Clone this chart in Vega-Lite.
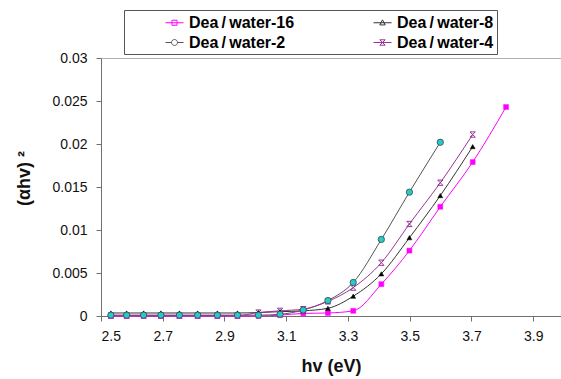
{
  "$schema": "https://vega.github.io/schema/vega-lite/v6.json",
  "autosize": "none",
  "width": 460,
  "height": 258,
  "padding": {"left": 101, "top": 58, "right": 0, "bottom": 63},
  "background": "white",
  "config": {
    "view": {"stroke": "#b0b0b0", "strokeWidth": 1},
    "axis": {
      "grid": false,
      "domainColor": "#707070",
      "tickColor": "#707070",
      "tickSize": 5,
      "labelFont": "Liberation Sans",
      "labelFontSize": 14,
      "labelColor": "#111",
      "titleFont": "Liberation Sans",
      "titleFontSize": 18,
      "titleFontWeight": "bold",
      "titleColor": "#111"
    },
    "legend": {
      "title": "\u00a0", "titleOrient": "right", "titlePadding": 42, "titleFontSize": 1,
      "orient": "none", "legendX": 23, "legendY": -48,
      "columns": 2, "direction": "horizontal", "columnPadding": 40, "rowPadding": 2,
      "padding": 3, "symbolOffset": 38, "labelOffset": 5, "symbolSize": 324, "symbolOpacity": 1, "symbolStrokeWidth": 1,
      "strokeColor": "#555555", "fillColor": "white",
      "labelFont": "Liberation Sans", "labelFontSize": 16, "labelFontWeight": "bold", "labelColor": "#000"
    }
  },
  "data": {
    "values": [
      {"series": "Dea/water-16", "hv": 2.532, "y": 0.0},
      {"series": "Dea/water-16", "hv": 2.583, "y": 0.0},
      {"series": "Dea/water-16", "hv": 2.638, "y": 0.0},
      {"series": "Dea/water-16", "hv": 2.694, "y": 0.0},
      {"series": "Dea/water-16", "hv": 2.754, "y": 0.0},
      {"series": "Dea/water-16", "hv": 2.813, "y": 0.0},
      {"series": "Dea/water-16", "hv": 2.877, "y": 0.0},
      {"series": "Dea/water-16", "hv": 2.942, "y": 0.0},
      {"series": "Dea/water-16", "hv": 3.010, "y": 0.0},
      {"series": "Dea/water-16", "hv": 3.080, "y": 0.0001},
      {"series": "Dea/water-16", "hv": 3.155, "y": 0.0003},
      {"series": "Dea/water-16", "hv": 3.235, "y": 0.00035},
      {"series": "Dea/water-16", "hv": 3.317, "y": 0.0006},
      {"series": "Dea/water-16", "hv": 3.408, "y": 0.0037},
      {"series": "Dea/water-16", "hv": 3.499, "y": 0.0076},
      {"series": "Dea/water-16", "hv": 3.599, "y": 0.0127},
      {"series": "Dea/water-16", "hv": 3.704, "y": 0.0179},
      {"series": "Dea/water-16", "hv": 3.812, "y": 0.0243},

      {"series": "Dea/water-8", "hv": 2.532, "y": 0.00035},
      {"series": "Dea/water-8", "hv": 2.583, "y": 0.00035},
      {"series": "Dea/water-8", "hv": 2.638, "y": 0.00035},
      {"series": "Dea/water-8", "hv": 2.694, "y": 0.00035},
      {"series": "Dea/water-8", "hv": 2.754, "y": 0.00035},
      {"series": "Dea/water-8", "hv": 2.813, "y": 0.00035},
      {"series": "Dea/water-8", "hv": 2.877, "y": 0.00035},
      {"series": "Dea/water-8", "hv": 2.942, "y": 0.00035},
      {"series": "Dea/water-8", "hv": 3.010, "y": 0.0004},
      {"series": "Dea/water-8", "hv": 3.080, "y": 0.0005},
      {"series": "Dea/water-8", "hv": 3.155, "y": 0.0006},
      {"series": "Dea/water-8", "hv": 3.235, "y": 0.0009},
      {"series": "Dea/water-8", "hv": 3.317, "y": 0.0023},
      {"series": "Dea/water-8", "hv": 3.408, "y": 0.0049},
      {"series": "Dea/water-8", "hv": 3.499, "y": 0.0091},
      {"series": "Dea/water-8", "hv": 3.599, "y": 0.0140},
      {"series": "Dea/water-8", "hv": 3.704, "y": 0.0197},

      {"series": "Dea/water-2", "hv": 2.532, "y": 0.0001},
      {"series": "Dea/water-2", "hv": 2.583, "y": 0.0001},
      {"series": "Dea/water-2", "hv": 2.638, "y": 0.0001},
      {"series": "Dea/water-2", "hv": 2.694, "y": 0.0001},
      {"series": "Dea/water-2", "hv": 2.754, "y": 0.0001},
      {"series": "Dea/water-2", "hv": 2.813, "y": 0.0001},
      {"series": "Dea/water-2", "hv": 2.877, "y": 0.0001},
      {"series": "Dea/water-2", "hv": 2.942, "y": 0.0001},
      {"series": "Dea/water-2", "hv": 3.010, "y": 0.0001},
      {"series": "Dea/water-2", "hv": 3.080, "y": 0.0002},
      {"series": "Dea/water-2", "hv": 3.155, "y": 0.0007},
      {"series": "Dea/water-2", "hv": 3.235, "y": 0.0018},
      {"series": "Dea/water-2", "hv": 3.317, "y": 0.0039},
      {"series": "Dea/water-2", "hv": 3.408, "y": 0.0089},
      {"series": "Dea/water-2", "hv": 3.499, "y": 0.0144},
      {"series": "Dea/water-2", "hv": 3.599, "y": 0.0202},

      {"series": "Dea/water-4", "hv": 2.532, "y": 0.00005},
      {"series": "Dea/water-4", "hv": 2.583, "y": 0.00005},
      {"series": "Dea/water-4", "hv": 2.638, "y": 0.00005},
      {"series": "Dea/water-4", "hv": 2.694, "y": 0.00005},
      {"series": "Dea/water-4", "hv": 2.754, "y": 0.00005},
      {"series": "Dea/water-4", "hv": 2.813, "y": 0.00005},
      {"series": "Dea/water-4", "hv": 2.877, "y": 0.00005},
      {"series": "Dea/water-4", "hv": 2.942, "y": 0.00005},
      {"series": "Dea/water-4", "hv": 3.010, "y": 0.0004},
      {"series": "Dea/water-4", "hv": 3.080, "y": 0.0006},
      {"series": "Dea/water-4", "hv": 3.155, "y": 0.0008},
      {"series": "Dea/water-4", "hv": 3.235, "y": 0.0017},
      {"series": "Dea/water-4", "hv": 3.317, "y": 0.0033},
      {"series": "Dea/water-4", "hv": 3.408, "y": 0.0062},
      {"series": "Dea/water-4", "hv": 3.499, "y": 0.0107},
      {"series": "Dea/water-4", "hv": 3.599, "y": 0.0155},
      {"series": "Dea/water-4", "hv": 3.704, "y": 0.0211}
    ]
  },
  "encoding": {
    "x": {
      "field": "hv", "type": "quantitative",
      "scale": {"domain": [2.5, 3.99], "nice": false, "zero": false},
      "axis": {"title": "hv (eV)", "values": [2.5, 2.7, 2.9, 3.1, 3.3, 3.5, 3.7, 3.9], "format": ".1f", "labelPadding": 8, "titlePadding": 14}
    },
    "y": {
      "field": "y", "type": "quantitative",
      "scale": {"domain": [0, 0.03], "nice": false},
      "axis": {"title": "(αhv)\u00a0²", "values": [0, 0.005, 0.01, 0.015, 0.02, 0.025, 0.03], "format": ".3~f", "labelPadding": 9, "titlePadding": 18, "titleY": 120}
    }
  },
  "layer": [
    {
      "mark": {"type": "point", "filled": false, "opacity": 0, "strokeWidth": 1},
      "encoding": {
        "color": {
          "field": "series", "type": "nominal", "sort": null,
          "scale": {"range": ["#ff00ff", "#333333", "#555555", "#993399"]},
          "legend": {"values": ["Dea/water-16", "Dea/water-8", "Dea/water-2", "Dea/water-4"], "labelExpr": "replace(datum.label, '/', '\u2009/\u2009')"}
        },
        "shape": {
          "field": "series", "type": "nominal", "sort": null,
          "scale": {"range": ["M-1,0H1M-0.28,-0.28H0.28V0.28H-0.28Z", "M-1,0H1M0,-0.32L0.3,0.24H-0.3Z", "M-1,0H-0.33M0.33,0H1M0.33,0A0.33,0.33 0 1 1 -0.33,0A0.33,0.33 0 1 1 0.33,0Z", "M-1,0H1M-0.3,-0.3H0.3L-0.3,0.3H0.3Z"]},
          "legend": {"values": ["Dea/water-16", "Dea/water-8", "Dea/water-2", "Dea/water-4"], "labelExpr": "replace(datum.label, '/', '\u2009/\u2009')"}
        }
      }
    },
    {
      "mark": {"type": "line", "interpolate": "monotone", "strokeWidth": 1},
      "encoding": {
        "stroke": {
          "field": "series", "type": "nominal", "sort": null,
          "scale": {"range": ["#ff00ff", "#333333", "#555555", "#993399"]},
          "legend": null
        }
      }
    },
    {
      "transform": [{"filter": "datum.series === 'Dea/water-4'"}],
      "mark": {"type": "point", "shape": "M-1,-1H1L-1,1H1Z", "filled": false, "stroke": "#993399", "strokeWidth": 1, "size": 28, "opacity": 1}
    },
    {
      "transform": [{"filter": "datum.series === 'Dea/water-16'"}],
      "mark": {"type": "point", "shape": "square", "filled": true, "fill": "#ff00ff", "stroke": "#ff00ff", "strokeWidth": 0.5, "size": 24, "opacity": 1}
    },
    {
      "transform": [{"filter": "datum.series === 'Dea/water-8'"}],
      "mark": {"type": "point", "shape": "triangle-up", "filled": true, "fill": "#000000", "stroke": "#000000", "strokeWidth": 0.5, "size": 24, "opacity": 1}
    },
    {
      "transform": [{"filter": "datum.series === 'Dea/water-2'"}],
      "mark": {"type": "point", "shape": "circle", "filled": true, "fill": "#22cccc", "stroke": "#444444", "strokeWidth": 0.8, "size": 40, "opacity": 1}
    }
  ]
}
